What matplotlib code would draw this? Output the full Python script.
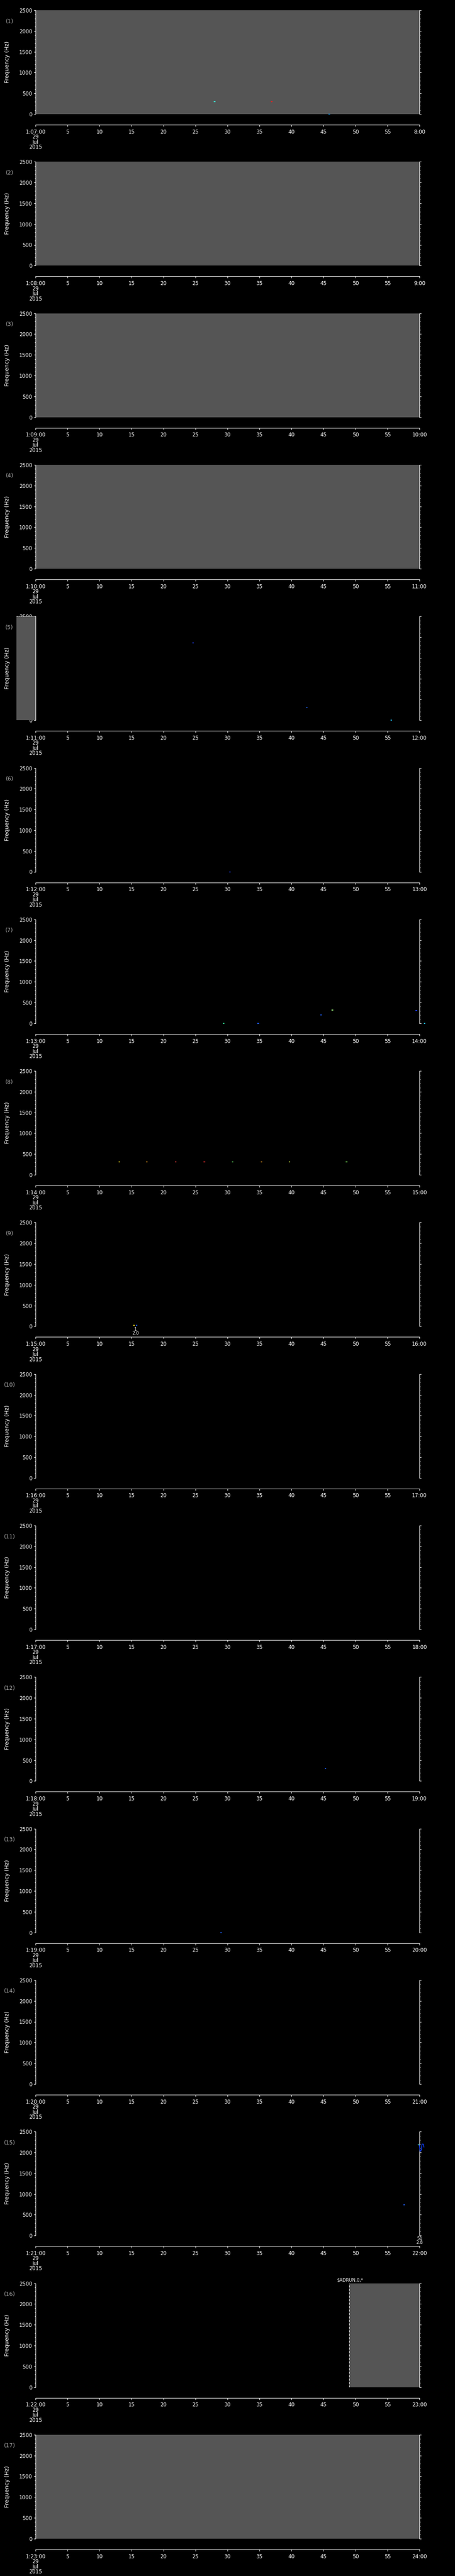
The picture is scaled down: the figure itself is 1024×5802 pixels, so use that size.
import matplotlib
matplotlib.use('Agg')
import matplotlib.pyplot as plt
from matplotlib.patches import Rectangle
from matplotlib.ticker import MultipleLocator

plt.rcParams['font.family'] = ['DejaVu Sans']

# one panel per minute, 1:07 .. 1:24 UT, 29 Jul 2015
start_minute = list(range(7, 24))
date_lines = ['29', 'Jul', '2015']
freq_max = 2500

# grey = no data  (panel, start s, end s)
gap_panel = [1, 2, 3, 4, 5, 16, 17]
gap_start = [0, 0, 0, 0, -3, 49, 0]
gap_end = [60, 60, 60, 60, 0, 60, 60]

# small blips seen in the spectrogram (panel, seconds, Hz, colour)
blip_panel = [1, 1, 1,
              5, 5, 5,
              6,
              7, 7, 7, 7, 7, 7,
              8, 8, 8, 8, 8, 8, 8, 8,
              9, 9,
              12, 13,
              15]
blip_t = [28.0, 36.9, 45.9,
          24.6, 42.4, 55.6,
          30.4,
          29.4, 34.8, 44.6, 46.4, 59.5, 60.8,
          13.1, 17.4, 21.9, 26.4, 30.8, 35.3, 39.7, 48.6,
          15.4, 15.8,
          45.3, 29.0,
          57.6]
blip_f = [300, 302, 0,
          1862, 306, 0,
          0,
          0, 0, 200, 314, 305, 0,
          313, 313, 313, 313, 313, 313, 313, 313,
          25, 25,
          300, 0,
          737]
blip_color = ['#40e0d0', '#ff2020', '#20a0ff',
              '#2040ff', '#2060ff', '#20c0ff',
              '#2040ff',
              '#30e090', '#2060ff', '#2060ff', '#a0ff80', '#2040ff', '#20c0ff',
              '#ffe020', '#ffa020', '#ff4040', '#ff3030', '#60e060', '#ff9020', '#c0e040', '#80ff60',
              '#ffe020', '#2060ff',
              '#2060ff', '#2060ff',
              '#2060ff']

# the burst at the very end of panel 15
burst_t = [59.8, 60.0, 60.1, 60.3, 60.4, 60.6, 60.7]
burst_f = [2190, 2170, 2020, 2060, 2200, 2200, 2130]

note_panel = [9, 15]
note_t = [15.6, 60.0]
note_text = ['1\n2.0', '51\n2.8']

W, H = 1024, 5802
fig = plt.figure(figsize=(W / 100, H / 100), dpi=100, facecolor='black')

left_px, width_px, height_px = 80, 864, 234
step_px, top0 = 341.3, 23

axes = []
for i, m in enumerate(start_minute):
    top = top0 + i * step_px
    ax = fig.add_axes([left_px / W, 1 - (top + height_px) / H, width_px / W, height_px / H])
    ax.set_facecolor('black')
    ax.set_xlim(0, 60)
    ax.set_ylim(0, freq_max)

    for s in ['left', 'right', 'bottom']:
        ax.spines[s].set_color('white')
        ax.spines[s].set_linewidth(0.8)
    ax.spines['top'].set_visible(False)
    ax.spines['bottom'].set_position(('outward', 17.3))

    ax.yaxis.set_major_locator(MultipleLocator(500))
    ax.yaxis.set_minor_locator(MultipleLocator(100))
    ax.tick_params(axis='y', which='both', direction='out', left=True, right=True,
                   colors='white', labelsize=8.5, width=0.8, pad=2.5)
    ax.tick_params(axis='y', which='major', length=3)
    ax.tick_params(axis='y', which='minor', length=1.5)

    ticks = list(range(0, 61, 5))
    labels = [f'1:{m:02d}:00\n' + '\n'.join(date_lines)] + [str(t) for t in ticks[1:-1]] + [f'{m + 1}:00']
    ax.set_xticks(ticks, labels)
    ax.tick_params(axis='x', direction='out', colors='white', labelsize=8.5,
                   length=3, width=0.8, pad=4)
    for lbl in ax.get_xticklabels():
        lbl.set_linespacing(0.85)

    ax.set_ylabel('Frequency (Hz)', color='white', fontsize=9)
    ax.yaxis.set_label_coords(-0.066, 0.5)
    ax.text(-0.068, 0.893, f'({i + 1})', transform=ax.transAxes, color='#a8a8a8',
            ha='center', va='center', fontsize=9)
    axes.append(ax)

for p, a, b in zip(gap_panel, gap_start, gap_end):
    ax = axes[p - 1]
    if a < 0:
        # grey strip sitting over the left axis
        ax.add_patch(Rectangle((a, 0), b - a, freq_max, facecolor='#555555',
                               edgecolor='none', clip_on=False, zorder=3))
        ax.plot([a, b], [freq_max, freq_max], color='white', lw=0.8, ls=(0, (2, 2)),
                clip_on=False, zorder=4)
        ax.axvline(b, color='white', lw=0.8, zorder=4)
    else:
        ax.axvspan(a, b, color='#555555', zorder=0.5, lw=0)
        if a > 0:
            ax.axvline(a, color='white', lw=0.8, ls=(0, (4, 3)), zorder=1)

for p, t, f, c in zip(blip_panel, blip_t, blip_f, blip_color):
    axes[p - 1].plot([t - 0.12, t + 0.12], [f, f], color=c, lw=1.4,
                     solid_capstyle='butt', clip_on=False, zorder=2)

ax15 = axes[14]
ax15.plot(burst_t[:2], burst_f[:2], color='#40e0e0', lw=1.2, clip_on=False, zorder=3)
ax15.plot(burst_t[1:], burst_f[1:], color='#1040ff', lw=1.2, clip_on=False, zorder=3)

for p, t, txt in zip(note_panel, note_t, note_text):
    axes[p - 1].annotate(txt, xy=(t, 0), xytext=(0, -1), textcoords='offset points',
                         ha='center', va='top', color='white', fontsize=7,
                         linespacing=0.9, annotation_clip=False)

axes[15].annotate(r'\$ADRUN,0,*', xy=(47.1, freq_max), xytext=(0, 1.5),
                  textcoords='offset points', ha='left', va='bottom',
                  color='white', fontsize=7, annotation_clip=False)

fig.savefig('out.png', dpi=100, facecolor='black')
